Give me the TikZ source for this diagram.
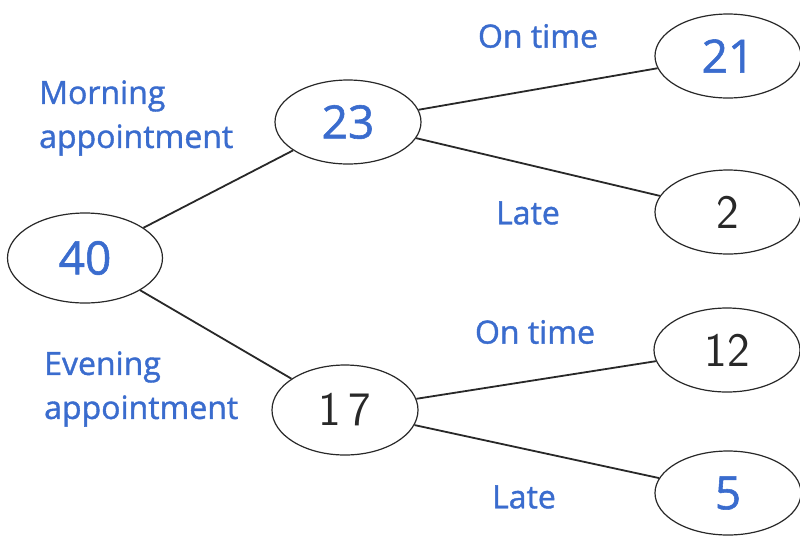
\documentclass[tikz,border=0pt]{standalone}
\usepackage{fontspec}
\setmainfont{Open Sans}
\newfontfamily\bluefont[FakeBold=1.2]{Open Sans}
\usetikzlibrary{shapes.geometric}
\definecolor{inkblue}{RGB}{58,108,206}
\definecolor{inkdark}{RGB}{40,40,40}
\tikzset{
  oval/.style={ellipse, draw=inkdark, line width=1.2pt, minimum width=146pt, minimum height=84pt, inner sep=0pt},
  bnum/.style={text=inkblue, font=\bluefont\fontsize{46}{50}\selectfont},
  hnum/.style={text=inkdark, font=\sffamily\fontsize{48}{52}\selectfont},
  lbl/.style={text=inkblue, font=\bluefont\fontsize{32}{44}\selectfont, inner sep=0pt},
  branch/.style={draw=inkdark, line width=1.8pt}
}
\begin{document}
\begin{tikzpicture}[x=1pt,y=-1pt]
\useasboundingbox[fill=white] (0,0) rectangle (800,542);
\node[oval, bnum, minimum width=155pt, minimum height=90pt] (n40) at (85,258) {40};
\node[oval, bnum] (n23) at (348,122) {23};
\node[oval, hnum, minimum height=90pt] (n17) at (345,410) {1\,7};
\node[oval, bnum] (n21) at (728,56) {21};
\node[oval, hnum] (n2) at (728,212) {2};
\node[oval, hnum] (n12) at (727,350) {12};
\node[oval, bnum] (n5) at (728,493) {5};
\draw[branch] (n40) -- (n23);
\draw[branch] (n40) -- (n17);
\draw[branch] (n23) -- (n21);
\draw[branch] (n23) -- (n2);
\draw[branch] (n17) -- (n12);
\draw[branch] (n17) -- (n5);
\node[lbl, align=left, anchor=west] (morning) at (39,118) {Morning\\appointment};
\node[lbl, align=left, anchor=west] (evening) at (44,389) {Evening\\appointment};
\node[lbl] (ot1) at (538,36) {On time};
\node[lbl] (late1) at (528,213) {Late};
\node[lbl] (ot2) at (535,332) {On time};
\node[lbl] (late2) at (524,497) {Late};
\end{tikzpicture}
\end{document}
